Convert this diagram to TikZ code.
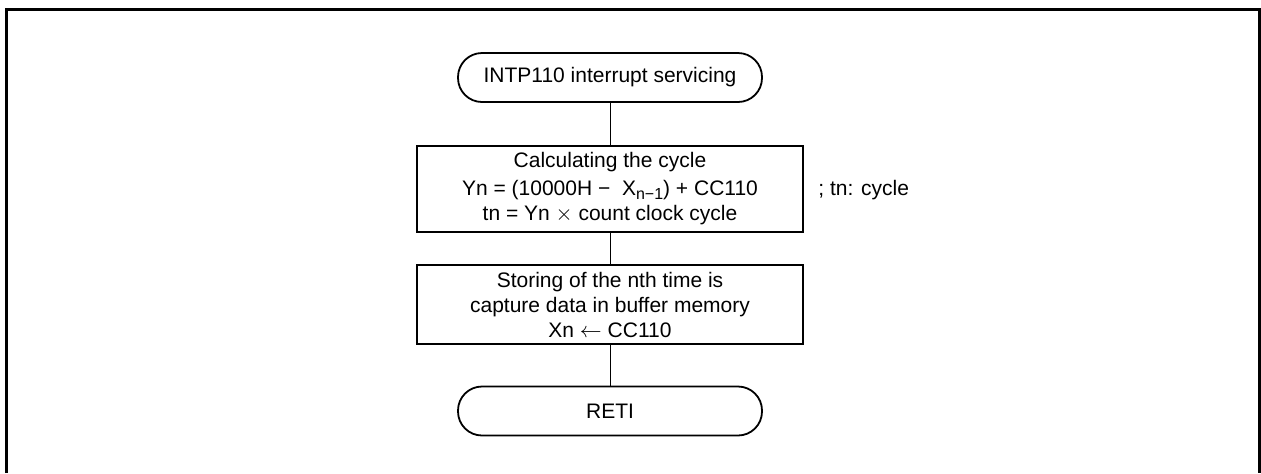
\documentclass[tikz,border=0pt]{standalone}
\usepackage{fontspec}
\setmainfont{Liberation Sans}
\usepackage{tikz}
\usetikzlibrary{calc, positioning}

\begin{document}
\begin{tikzpicture}[x=0.5pt, y=-0.5pt, font=\fontsize{10.5}{12.5}\selectfont,
    terminal/.style={draw, line width=0.9pt, rounded corners=12pt,
        minimum width=152pt, minimum height=24.5pt, inner sep=0pt},
    procbox/.style={draw, line width=1pt, minimum width=193pt,
        align=center, inner sep=0pt},
    flowline/.style={line width=0.5pt}]

    % =================================================================
    % 1. KHUNG NGOAI
    % =================================================================
    \useasboundingbox (0,0) rectangle (1261,473);
    \draw[line width=1.5pt] (6,473) -- (6,9) -- (1259,9) -- (1259,473);

    % =================================================================
    % 2. CAC KHOI CUA LUU DO
    % =================================================================
    \node[terminal] (start) at (610,77.5) {INTP110 interrupt servicing};

    \node[procbox, minimum height=43pt] (calc) at (610,189)
        {Calculating the cycle\\[1.5pt]
         Yn = (10000H −\ \ X\raisebox{-0.35ex}{\fontsize{8}{9}\selectfont n−1}) + CC110\\
         tn = Yn $\times$ count clock cycle};

    \node[procbox, minimum height=39.5pt] (store) at (610,304.5)
        {Storing of the nth time is\\
         capture data in buffer memory\\
         Xn $\leftarrow$ CC110};

    \node[terminal] (reti) at (610,411) {RETI};

    % Ghi chu ben phai
    \node[anchor=west, inner sep=0pt] (note) at (818,190) {; tn: cycle};

    % =================================================================
    % 3. DUONG NOI
    % =================================================================
    \draw[flowline] (start) -- (calc);
    \draw[flowline] (calc) -- (store);
    \draw[flowline] (store) -- (reti);

\end{tikzpicture}
\end{document}
